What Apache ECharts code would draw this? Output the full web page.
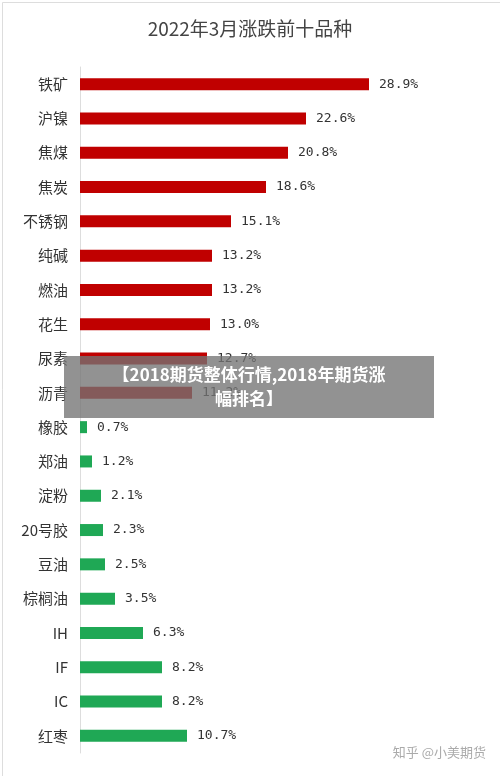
<!DOCTYPE html>
<html><head><meta charset="utf-8">
<script src="https://cdn.jsdelivr.net/npm/echarts@6/dist/echarts.min.js"></script>
<style>html,body{margin:0;padding:0;background:#fff}#c{width:500px;height:776px}</style>
</head><body><div id="c"></div>
<script>
const categories = ['铁矿','沪镍','焦煤','焦炭','不锈钢','纯碱','燃油','花生','尿素','沥青','橡胶','郑油','淀粉','20号胶','豆油','棕榈油','IH','IF','IC','红枣'];
const values = [28.9,22.6,20.8,18.6,15.1,13.2,13.2,13.0,12.7,11.2,0.7,1.2,2.1,2.3,2.5,3.5,6.3,8.2,8.2,10.7];
const upCount = 10;
const chart = echarts.init(document.getElementById('c'));
chart.setOption({
  backgroundColor:'#fff',
  title:{text:'2022年3月涨跌前十品种',left:'center',top:14,textStyle:{fontSize:19,fontWeight:'normal',color:'#444',fontFamily:'Noto Sans CJK SC'}},
  grid:{left:80,right:120,top:67,bottom:23},
  xAxis:{type:'value',min:0,max:30,show:false},
  yAxis:{type:'category',data:categories,inverse:true,
    axisLine:{lineStyle:{color:'#ddd'}},axisTick:{show:false},
    axisLabel:{fontSize:15,color:'#333',margin:12,fontFamily:'Noto Sans CJK SC'}},
  series:[{type:'bar',barWidth:12,
    data:values.map((v,i)=>({value:v,itemStyle:{color:i<upCount?'#c00000':'#1fa855'}})),
    label:{show:true,position:'right',distance:10,formatter:p=>p.value.toFixed(1)+'%',fontSize:13,color:'#333',fontFamily:'DejaVu Sans Mono'}}],
  graphic:[
    {type:'rect',left:64,top:356,shape:{width:370,height:62},style:{fill:'rgba(115,115,115,0.78)'},z:100},
    {type:'text',x:249,y:363,style:{text:'【2018期货整体行情,2018年期货涨\n幅排名】',fill:'#fff',font:'bold 17px "Noto Sans CJK SC"',align:'center',textAlign:'center',lineHeight:24},z:101},
    {type:'text',right:14,top:746,style:{text:'知乎 @小美期货',fill:'#aaa',font:'13px "Noto Sans CJK SC"'},z:101},
    {type:'rect',left:0,top:0,shape:{width:499,height:775},style:{fill:'none',stroke:'#ddd',lineWidth:1},z:102}
  ]
});
</script></body></html>
